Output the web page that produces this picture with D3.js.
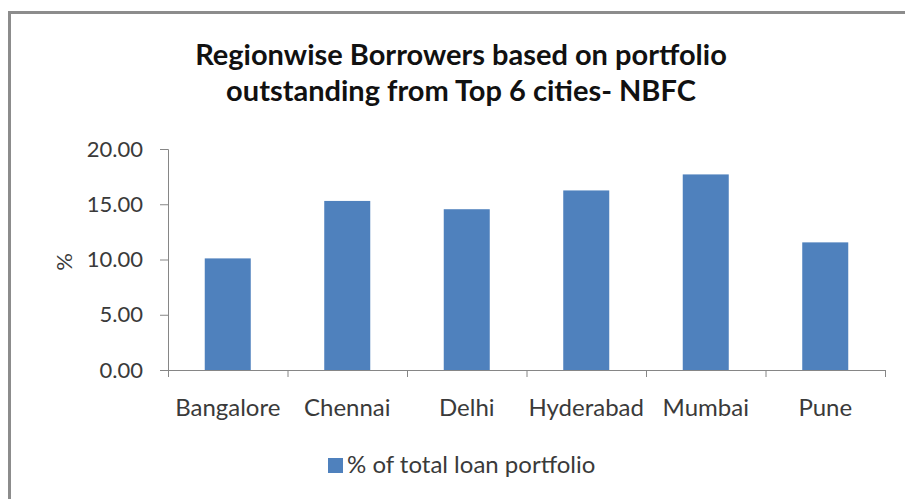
<!DOCTYPE html>
<html><head><meta charset="utf-8">
<script src="https://cdn.jsdelivr.net/npm/d3@7"></script>
<style>
html,body{margin:0;padding:0;background:#fff;}
text{font-family:Lato,"Open Sans",sans-serif;}
</style></head>
<body>
<script>
const categories = ["Bangalore","Chennai","Delhi","Hyderabad","Mumbai","Pune"];
const values = [10.1, 15.3, 14.55, 16.25, 17.7, 11.55];
const yTicks = [0,5,10,15,20];
const seriesName = "% of total loan portfolio";
const titleLines = ["Regionwise Borrowers based on portfolio","outstanding from Top 6 cities- NBFC"];

const W=905,H=499;
const FONT="Lato,'Open Sans',sans-serif";
const svg=d3.select("body").append("svg").attr("width",W).attr("height",H);
svg.append("rect").attr("width",W).attr("height",H).attr("fill","#fff");
// frame
svg.append("path").attr("d",`M9.5,${H+5}V12.5H${W+5}`).attr("fill","none").attr("stroke","#8c8c8c").attr("stroke-width",3);

const x0=168,x1=885,yTop=149,yBot=370;
const x=d3.scaleBand().domain(categories).range([x0,x1]).paddingInner(0.615).paddingOuter(0.3075);
const xb=d3.scaleBand().domain(categories).range([x0,x1]);
const y=d3.scaleLinear().domain([0,20]).range([yBot,yTop]);

// title
svg.append("g").selectAll("text").data(titleLines).join("text")
 .attr("x",461).attr("y",(d,i)=>65+i*36).attr("text-anchor","middle")
 .attr("font-size",29).attr("font-weight","bold").attr("fill","#111").text(d=>d);

// y axis
const ya=svg.append("g").attr("transform",`translate(${x0},0)`)
 .call(d3.axisLeft(y).tickValues(yTicks).tickFormat(d3.format(".2f")).tickSize(8).tickPadding(17));
ya.select(".domain").attr("stroke","#868686").attr("d",`M-8,${yTop}.5H0.5V${yBot}`);
ya.selectAll(".tick line").attr("stroke","#868686");
ya.selectAll(".tick text").attr("font-size",22).attr("fill","#3a3a3a").style("font-family",FONT);

// x axis
const xa=svg.append("g").attr("transform",`translate(0,${yBot})`)
 .call(d3.axisBottom(xb).tickSize(0).tickPadding(29));
xa.select(".domain").attr("stroke","#868686").attr("d",`M${x0},0.5H${x1}`);
xa.selectAll(".tick text").attr("font-size",24).attr("fill","#3a3a3a").style("font-family",FONT);
svg.append("g").selectAll("line").data(categories.concat(["_end"])).join("line")
 .attr("x1",(d,i)=>x0+i*xb.step()+0.5).attr("x2",(d,i)=>x0+i*xb.step()+0.5)
 .attr("y1",yBot).attr("y2",yBot+7).attr("stroke","#868686");

// bars
svg.append("g").selectAll("rect").data(values).join("rect")
 .attr("x",(d,i)=>x(categories[i])).attr("width",x.bandwidth())
 .attr("y",d=>y(d)).attr("height",d=>yBot-y(d)).attr("fill","#4f81bd");

// y label
svg.append("text").attr("transform","translate(72,262) rotate(-90)").attr("text-anchor","middle")
 .attr("font-size",22).attr("fill","#3a3a3a").text("%");

// legend
svg.append("rect").attr("x",328).attr("y",458).attr("width",15).attr("height",15).attr("fill","#4f81bd");
svg.append("text").attr("x",347).attr("y",473).attr("font-size",24).attr("fill","#3a3a3a").text(seriesName);
</script>
</body></html>
